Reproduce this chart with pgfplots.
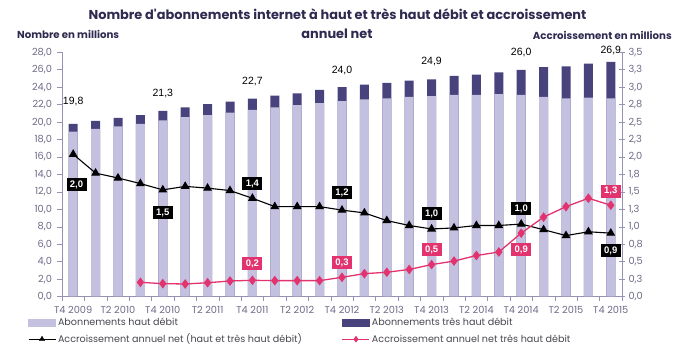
\documentclass[border=0pt]{standalone}
\usepackage{fontspec}
\setmainfont{Poppins}[Ligatures=TeXOff]
\newfontfamily\arial{Liberation Sans}
\usepackage{pgfplots}
\pgfplotsset{compat=1.18}
\usepackage{pgfplotstable}
\definecolor{hd}{RGB}{196,192,223}
\definecolor{thd}{RGB}{72,66,125}
\definecolor{pinkc}{RGB}{226,51,110}
\definecolor{axc}{RGB}{150,146,178}
\definecolor{tickc}{RGB}{110,106,135}
\definecolor{titlec}{RGB}{46,42,80}
\definecolor{legc}{RGB}{70,70,80}

\pgfplotstableread{
x total hd black
0 19.80 18.90 2.04
1 20.15 19.22 1.77
2 20.50 19.50 1.70
3 20.80 19.80 1.62
4 21.30 20.20 1.53
5 21.70 20.58 1.58
6 22.05 20.80 1.555
7 22.35 21.10 1.52
8 22.70 21.40 1.41
9 23.05 21.68 1.29
10 23.30 21.95 1.29
11 23.70 22.18 1.29
12 24.00 22.42 1.24
13 24.30 22.62 1.20
14 24.50 22.72 1.09
15 24.75 22.90 1.02
16 24.90 22.98 0.97
17 25.30 23.12 0.985
18 25.45 23.13 1.02
19 25.70 23.20 1.02
20 26.00 23.13 1.04
21 26.30 22.90 0.96
22 26.40 22.72 0.875
23 26.70 22.80 0.93
24 26.90 22.72 0.91
}\data

\pgfplotstableread{
x pink
3 0.206
4 0.187
5 0.182
6 0.200
7 0.225
8 0.235
9 0.230
10 0.230
11 0.230
12 0.278
13 0.330
14 0.350
15 0.390
16 0.460
17 0.510
18 0.590
19 0.640
20 0.910
21 1.140
22 1.290
23 1.410
24 1.310
}\pinkdata

\pgfplotstableread{
x y label
0 22.42 19,8
4 23.33 21,3
8 24.71 22,7
12 25.86 24,0
16 26.89 24,9
20 27.92 26,0
24 28.26 26,9
}\barlabels

\pgfplotstableread{
x y label
0.15 1.60 2,0
4 1.20 1,5
8 1.62 1,4
12 1.49 1,2
16 1.19 1,0
20 1.26 1,0
24 0.66 0,9
}\blacklabels

\pgfplotstableread{
x y label
8 0.47 0,2
12 0.49 0,3
16 0.67 0,5
20 0.67 0,9
24 1.51 1,3
}\pinklabels

\begin{document}
\begin{tikzpicture}
\useasboundingbox (-62pt,-65.3pt) rectangle (620pt,296.7pt);
\pgfplotsset{
  common/.style={
    at={(0pt,0pt)}, anchor=south west,
    scale only axis, width=560pt, height=244.4pt,
    xmin=-0.5, xmax=24.5, clip=false,
    axis line style={axc, line width=0.8pt},
    tick style={axc, line width=0.6pt},
    tick label style={font=\fontsize{9.8}{10}\selectfont, text=tickc},
    /pgf/number format/assume math mode=true,
  }
}
\begin{axis}[common,
  ymin=0, ymax=28,
  axis x line*=bottom, axis y line*=left,
  tick align=outside,
  major tick length=5pt, minor tick length=4pt,
  ytick={0,2,...,28},
  y tick label style={xshift=-1.5pt, /pgf/number format/.cd, fixed, fixed zerofill, precision=1, use comma},
  x tick label style={yshift=-1pt},
  xtick={0,2,...,24},
  xticklabels={T4 2009,T2 2010,T4 2010,T2 2011,T4 2011,T2 2012,T4 2012,T2 2013,T4 2013,T2 2014,T4 2014,T2 2015,T4 2015},
  minor xtick={-0.5,0.5,...,24.5},
  major x tick style={draw=none},
]
\addplot[ybar, bar width=9pt, bar shift=0pt, fill=thd, draw=none] table[x=x, y=total] {\data};
\addplot[ybar, bar width=9pt, bar shift=0pt, fill=hd, draw=none] table[x=x, y=hd] {\data};
\addplot[draw=none, mark=none, nodes near coords, point meta=explicit symbolic,
  nodes near coords align={anchor=center},
  every node near coord/.append style={text=black, font=\arial\fontsize{10.5}{11}\selectfont, inner sep=0pt}]
  table[x=x, y=y, meta=label] {\barlabels};
\end{axis}

\begin{axis}[common,
  ymin=0, ymax=3.5,
  axis x line=none, axis y line*=right,
  tick align=center, major tick length=6pt,
  ytick={0,0.25,0.5,0.75,1,1.25,1.5,1.75,2,2.25,2.5,2.75,3,3.25,3.5},
  yticklabels={{0,0},{0,3},{0,5},{0,8},{1,0},{1,3},{1,5},{1,8},{2,0},{2,3},{2,5},{2,8},{3,0},{3,3},{3,5}},
  legend columns=2,
  legend cell align=left,
  legend style={at={(axis description cs:-0.0607,-0.083)}, anchor=north west,
    draw=none, fill=none, inner sep=0pt, outer sep=0pt,
    font=\fontsize{9.6}{10}\selectfont, text=legc, row sep=5pt,
    /tikz/every even column/.append style={column sep=38pt},
    /tikz/every odd column/.append style={column sep=0pt},
    nodes={inner xsep=2pt, inner ysep=1pt}},
]
\addlegendimage{legend image code/.code={\fill[hd] (0pt,-3.5pt) rectangle (27pt,3.5pt);}}
\addlegendentry{Abonnements haut débit}
\addlegendimage{legend image code/.code={\fill[thd] (0pt,-3.5pt) rectangle (27pt,3.5pt);}}
\addlegendentry{Abonnements très haut débit}
\addlegendimage{legend image code/.code={\draw[black, line width=1pt] (0pt,0pt) -- (27pt,0pt); \draw[black, mark=triangle*, mark size=3pt] plot coordinates {(13.5pt,0pt)};}}
\addlegendentry{Accroissement annuel net (haut et très haut débit)}
\addlegendimage{legend image code/.code={\draw[pinkc, line width=1pt] (0pt,0pt) -- (27pt,0pt); \draw[pinkc, mark=diamond*, mark size=3pt] plot coordinates {(13.5pt,0pt)};}}
\addlegendentry{Accroissement annuel net très haut débit}

\addplot[forget plot, black, line width=1.1pt, mark=triangle*, mark size=4pt] table[x=x, y=black] {\data};
\addplot[forget plot, pinkc, line width=1.3pt, mark=diamond*, mark size=3.8pt] table[x=x, y=pink] {\pinkdata};

\addplot[forget plot, draw=none, mark=none, nodes near coords, point meta=explicit symbolic,
  nodes near coords align={anchor=center},
  every node near coord/.append style={fill=black, text=white, font=\arial\bfseries\fontsize{9.5}{10}\selectfont, minimum width=20pt, minimum height=13pt, inner sep=1pt}]
  table[x=x, y=y, meta=label] {\blacklabels};
\addplot[forget plot, draw=none, mark=none, nodes near coords, point meta=explicit symbolic,
  nodes near coords align={anchor=center},
  every node near coord/.append style={fill=pinkc, text=white, font=\arial\bfseries\fontsize{9.5}{10}\selectfont, minimum width=20pt, minimum height=13pt, inner sep=1pt}]
  table[x=x, y=y, meta=label] {\pinklabels};
\end{axis}

\node[font=\bfseries\fontsize{12.9}{13}\selectfont, text=titlec] at (275.5pt,282.7pt) {Nombre d'abonnements internet à haut et très haut débit et accroissement};
\node[font=\bfseries\fontsize{12.9}{13}\selectfont, text=titlec] at (275pt,262.7pt) {annuel net};
\node[font=\bfseries\fontsize{10.2}{11}\selectfont, text=titlec, anchor=west, inner sep=0pt] at (-45pt,262.7pt) {Nombre en millions};
\node[font=\bfseries\fontsize{10.2}{11}\selectfont, text=titlec, anchor=east, inner sep=0pt] at (610pt,261.7pt) {Accroissement en millions};
\end{tikzpicture}
\end{document}
